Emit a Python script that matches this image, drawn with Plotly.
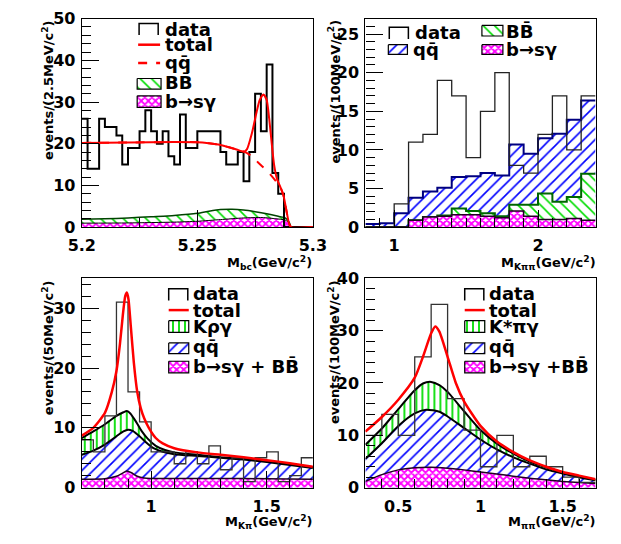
import plotly.graph_objects as go

W, H = 621, 544
FONT = "DejaVu Sans"

# ---------------- M_bc panel ----------------
mbc_start, mbc_width = 5.2, 0.0025
mbc_data = [26, 14, 14, 26, 24, 24, 22, 15, 19, 19,
            23, 28, 23, 20, 23, 17, 15, 27, 19, 19,
            23, 23, 23, 23, 18, 15, 15, 18, 11, 18,
            32, 23, 39, 13, 8, 0, 0, 0, 0, 0]
mbc_total_x = [5.200, 5.220, 5.240, 5.250, 5.255, 5.260, 5.2633, 5.267, 5.2702,
               5.2715, 5.2736, 5.2756, 5.2770, 5.2786, 5.2800, 5.2811, 5.2822,
               5.2832, 5.2845, 5.2860, 5.2873, 5.2887, 5.2897, 5.2905, 5.3000]
mbc_total_y = [20.2, 20.3, 20.4, 20.35, 20.1, 19.7, 19.2, 18.6, 18.1,
               18.7, 22.5, 27.5, 30.5, 31.8, 30.5, 26.0, 20.0,
               15.0, 11.5, 9.5, 7.5, 3.5, 0.8, 0.0, 0.0]
mbc_qq_x = [5.200, 5.220, 5.240, 5.250, 5.255, 5.260, 5.2633, 5.267, 5.2702,
            5.2725, 5.2750, 5.2780, 5.2810, 5.2840, 5.2860, 5.2873, 5.2887,
            5.2897, 5.2905]
mbc_qq_y = [20.2, 20.3, 20.4, 20.35, 20.1, 19.7, 19.2, 18.6, 18.1,
            17.4, 16.2, 14.6, 13.0, 11.0, 9.5, 7.5, 3.5, 0.8, 0.0]
mbc_bb_x = [5.200, 5.210, 5.220, 5.230, 5.240, 5.250, 5.255, 5.260, 5.265,
            5.270, 5.275, 5.280, 5.285, 5.288, 5.2897, 5.2905]
mbc_bb_y = [1.9, 2.0, 2.2, 2.5, 2.8, 3.3, 3.8, 4.2, 4.3,
            4.1, 3.7, 3.2, 2.6, 2.2, 1.2, 0.0]
mbc_bsg_x = [5.200, 5.220, 5.240, 5.250, 5.260, 5.270, 5.278, 5.284, 5.288,
             5.2897, 5.2905]
mbc_bsg_y = [0.95, 1.0, 1.2, 1.4, 1.8, 2.2, 2.3, 2.0, 1.7, 1.0, 0.0]

# ---------------- M_Kpipi panel ----------------
kpp_start, kpp_width = 0.8, 0.1
kpp_data = [0, 0, 3, 11, 12, 19, 17, 9, 15, 20, 8, 7, 12, 17, 10, 17]
kpp_qq = [0.4, 0.5, 1.8, 3.8, 4.6, 5.1, 6.5, 6.6, 7.0, 6.7,
          10.7, 9.5, 11.5, 12.1, 13.9, 16.4]
kpp_bb = [0, 0, 0, 0.9, 1.3, 1.5, 2.4, 2.1, 1.8, 1.4,
          2.9, 2.9, 4.35, 3.3, 3.9, 6.9]
kpp_bsg = [0, 0, 0, 0.9, 1.3, 1.4, 1.6, 1.6, 1.4, 1.2,
           2.1, 1.4, 1.0, 1.0, 1.1, 0.9]

# ---------------- M_Kpi panel ----------------
kpi_start, kpi_width = 0.7, 0.05
kpi_data = [8, 6, 12, 31, 16, 11, 6, 6, 4, 6, 4, 7, 3, 5, 1, 5, 6, 1, 2, 5]
kpi_total_x = [0.70, 0.75, 0.80, 0.83, 0.85, 0.865, 0.878, 0.888, 0.895, 0.902,
               0.912, 0.925, 0.94, 0.955, 0.97, 0.99, 1.02, 1.05, 1.10, 1.20,
               1.30, 1.40, 1.50, 1.60, 1.70]
kpi_total_y = [8.7, 10.0, 12.5, 16.0, 19.5, 24.0, 29.0, 32.0, 32.6, 31.5,
               27.0, 21.0, 16.0, 13.3, 11.6, 10.0, 8.3, 7.4, 6.6, 5.9,
               5.5, 5.1, 4.6, 4.1, 3.5]
kpi_krg_x = [0.70, 0.75, 0.80, 0.85, 0.88, 0.895, 0.91, 0.935, 0.96, 0.985,
             1.02, 1.06, 1.10, 1.20, 1.30, 1.40, 1.50, 1.60, 1.70]
kpi_krg_y = [8.3, 9.4, 10.6, 12.0, 12.6, 12.8, 12.4, 11.0, 9.4, 8.2,
             7.0, 6.3, 5.9, 5.5, 5.1, 4.8, 4.4, 3.9, 3.4]
kpi_qq_x = [0.70, 0.75, 0.80, 0.85, 0.88, 0.90, 0.92, 0.95, 0.98, 1.01,
            1.05, 1.10, 1.20, 1.30, 1.40, 1.50, 1.60, 1.70]
kpi_qq_y = [5.5, 6.2, 7.2, 8.6, 9.4, 9.7, 9.5, 8.6, 7.5, 6.6,
            6.0, 5.6, 5.3, 5.0, 4.7, 4.3, 3.8, 3.3]
kpi_bkg_x = [0.70, 0.80, 0.85, 0.875, 0.895, 0.915, 0.94, 0.97, 1.00, 1.10,
             1.30, 1.50, 1.70]
kpi_bkg_y = [1.4, 1.5, 1.9, 2.4, 2.8, 2.5, 1.9, 1.6, 1.55, 1.55,
             1.55, 1.5, 1.4]

# ---------------- M_pipi panel ----------------
pp_start, pp_width = 0.3, 0.1
pp_data = [10, 14, 10, 25, 35, 17, 11, 4, 10, 4, 6, 4, 2, 1]
pp_total_x = [0.30, 0.40, 0.50, 0.60, 0.65, 0.70, 0.725, 0.75, 0.80, 0.85,
              0.90, 1.00, 1.10, 1.20, 1.30, 1.40, 1.50, 1.60, 1.70]
pp_total_y = [10.7, 13.5, 16.8, 21.0, 25.0, 29.5, 30.8, 29.8, 25.0, 20.0,
              16.5, 11.8, 8.8, 6.8, 5.2, 4.0, 3.0, 2.3, 1.6]
pp_kspg_x = [0.30, 0.40, 0.50, 0.60, 0.65, 0.70, 0.75, 0.80, 0.90, 1.00,
             1.10, 1.20, 1.30, 1.40, 1.50, 1.60, 1.70]
pp_kspg_y = [8.2, 11.3, 15.0, 18.6, 19.9, 20.2, 19.6, 18.3, 14.6, 11.0,
             8.4, 6.5, 5.0, 3.9, 2.9, 2.2, 1.5]
pp_qq_x = [0.30, 0.40, 0.50, 0.60, 0.67, 0.75, 0.80, 0.90, 1.00, 1.10,
           1.20, 1.30, 1.40, 1.50, 1.60, 1.70]
pp_qq_y = [5.5, 8.5, 11.8, 14.2, 14.9, 14.5, 13.6, 11.4, 9.2, 7.3,
           5.8, 4.6, 3.5, 2.7, 2.0, 1.4]
pp_bkg_x = [0.30, 0.40, 0.50, 0.60, 0.70, 0.80, 0.90, 1.00, 1.10, 1.20,
            1.30, 1.40, 1.50, 1.60, 1.70]
pp_bkg_y = [1.2, 2.5, 3.4, 3.8, 3.9, 3.7, 3.4, 3.0, 2.6, 2.2,
            1.8, 1.5, 1.2, 1.0, 0.8]

# ---------------- styles ----------------
GREEN = "#00dd00"
BLUE = "#0000ff"
MAGENTA = "#ff00ff"
RED = "#ff0000"

PAT_DIAG_GREEN = dict(shape="\\", fgcolor=GREEN, bgcolor="white", size=8, solidity=0.2, fillmode="replace")
PAT_VERT_GREEN = dict(shape="|", fgcolor=GREEN, bgcolor="white", size=6, solidity=0.3, fillmode="replace")
PAT_BLUE = dict(shape="/", fgcolor=BLUE, bgcolor="white", size=8, solidity=0.2, fillmode="replace")
PAT_MAG = dict(shape="x", fgcolor=MAGENTA, bgcolor="white", size=5, solidity=0.6, fillmode="replace")


def steps(start, width, counts):
    edges = [start + width * i for i in range(len(counts) + 1)]
    return edges, list(counts) + [counts[-1]]


fig = go.Figure()


def add(trace, n):
    ax = "" if n == 1 else str(n)
    trace.update(xaxis="x" + ax, yaxis="y" + ax, showlegend=False, hoverinfo="skip")
    fig.add_trace(trace)


def hist_fill(start, width, vals, pattern, line_color, lw, n):
    x, y = steps(start, width, vals)
    add(go.Scatter(x=x, y=y, mode="lines", line=dict(shape="hv", color=line_color, width=lw),
                   fill="tozeroy", fillpattern=pattern), n)


def hist_line(start, width, vals, color, lw, n):
    x, y = steps(start, width, vals)
    add(go.Scatter(x=x, y=y, mode="lines", line=dict(shape="hv", color=color, width=lw)), n)


def curve_fill(x, y, pattern, line_color, lw, n):
    add(go.Scatter(x=x, y=y, mode="lines", line=dict(shape="spline", smoothing=0.6, color=line_color, width=lw),
                   fill="tozeroy", fillpattern=pattern), n)


def curve(x, y, color, lw, n, dash="solid"):
    add(go.Scatter(x=x, y=y, mode="lines", line=dict(shape="spline", smoothing=0.6, color=color, width=lw, dash=dash)), n)


# panel 1: M_bc
curve_fill(mbc_bb_x, mbc_bb_y, PAT_DIAG_GREEN, "#004400", 1.5, 1)
curve_fill(mbc_bsg_x, mbc_bsg_y, PAT_MAG, "black", 1, 1)
hist_line(mbc_start, mbc_width, mbc_data, "black", 2, 1)
curve(mbc_qq_x, mbc_qq_y, RED, 2, 1, dash="dash")
curve(mbc_total_x, mbc_total_y, RED, 2, 1)

# panel 2: M_Kpipi (stacked histograms)
hist_fill(kpp_start, kpp_width, kpp_qq, PAT_BLUE, "#000080", 2, 2)
hist_fill(kpp_start, kpp_width, kpp_bb, PAT_DIAG_GREEN, "#006600", 2, 2)
hist_fill(kpp_start, kpp_width, kpp_bsg, PAT_MAG, "#220022", 1.5, 2)
hist_line(kpp_start, kpp_width, kpp_data, "#222222", 1.3, 2)

# panel 3: M_Kpi
curve_fill(kpi_krg_x, kpi_krg_y, PAT_VERT_GREEN, "black", 2, 3)
curve_fill(kpi_qq_x, kpi_qq_y, PAT_BLUE, "black", 2, 3)
curve_fill(kpi_bkg_x, kpi_bkg_y, PAT_MAG, "#220022", 1.5, 3)
hist_line(kpi_start, kpi_width, kpi_data, "#333333", 1.3, 3)
curve(kpi_total_x, kpi_total_y, RED, 2.5, 3)

# panel 4: M_pipi
curve_fill(pp_kspg_x, pp_kspg_y, PAT_VERT_GREEN, "black", 2, 4)
curve_fill(pp_qq_x, pp_qq_y, PAT_BLUE, "black", 2, 4)
curve_fill(pp_bkg_x, pp_bkg_y, PAT_MAG, "#220022", 1.5, 4)
hist_line(pp_start, pp_width, pp_data, "#333333", 1.3, 4)
curve(pp_total_x, pp_total_y, RED, 2.5, 4)

# ---------------- axes ----------------
# frame boxes in pixels: left, right, top, bottom
FRAMES = {1: (71, 313, 10, 226), 2: (368, 609, 10, 226),
          3: (71, 313, 279, 496), 4: (368, 609, 279, 496)}
XSPEC = {1: dict(range=[5.2, 5.3], tickvals=[5.2, 5.25, 5.3], ticktext=["5.2", "5.25", "5.3"], minor=0.025),
         2: dict(range=[0.8, 2.4], tickvals=[1, 2], ticktext=["1", "2"], minor=0.1),
         3: dict(range=[0.7, 1.7], tickvals=[1, 1.5], ticktext=["1", "1.5"], minor=0.1),
         4: dict(range=[0.3, 1.7], tickvals=[0.5, 1, 1.5], ticktext=["0.5", "1", "1.5"], minor=0.1)}
YSPEC = {1: dict(range=[0, 50], dtick=10, minor=2),
         2: dict(range=[0, 27], dtick=5, minor=1),
         3: dict(range=[0, 35], dtick=10, minor=2),
         4: dict(range=[0, 40], dtick=10, minor=2)}

tickfont = dict(family=FONT, size=16, color="black", weight="bold")
common = dict(showline=True, mirror=True, linecolor="black", linewidth=1.2, ticks="inside",
              ticklen=17, tickwidth=1.2, tickcolor="black", showgrid=False, zeroline=False,
              tickfont=tickfont, fixedrange=True)

layout_axes = {}
for n, (l, r, t, b) in FRAMES.items():
    ax = "" if n == 1 else str(n)
    xs, ys = XSPEC[n], YSPEC[n]
    layout_axes["xaxis" + ax] = dict(
        common, domain=[l / W, r / W], anchor="y" + ax, range=xs["range"],
        tickvals=xs["tickvals"], ticktext=xs["ticktext"], ticklabelstandoff=4,
        minor=dict(ticks="inside", ticklen=9, tickwidth=1.2, tickcolor="black", dtick=xs["minor"],
                   tick0=xs["range"][0], showgrid=False))
    layout_axes["yaxis" + ax] = dict(
        common, domain=[1 - b / H, 1 - t / H], anchor="x" + ax, range=ys["range"],
        tick0=0, dtick=ys["dtick"], ticklabelstandoff=2,
        minor=dict(ticks="inside", ticklen=9, tickwidth=1.2, tickcolor="black", dtick=ys["minor"],
                   tick0=0, showgrid=False))

# overlay in pixel units for keys and titles
layout_axes["xaxis5"] = dict(domain=[0, 1], range=[0, W], visible=False, fixedrange=True, anchor="y5")
layout_axes["yaxis5"] = dict(domain=[0, 1], range=[H, 0], visible=False, fixedrange=True, anchor="x5")

annotations = []


def text(x, y, s, size=18, xanchor="left", yanchor="middle", angle=0):
    annotations.append(dict(x=x, y=y, xref="x5", yref="y5", text=s, showarrow=False,
                            xanchor=xanchor, yanchor=yanchor, textangle=angle, borderpad=0,
                            font=dict(family=FONT, size=size, color="black", weight="bold")))


def key_step(x0, x1, yt, yb, color="black"):
    add(go.Scatter(x=[x0, x0, x1, x1], y=[yb, yt, yt, yb], mode="lines",
                   line=dict(color=color, width=1.5)), 5)


def key_line(x0, x1, y, dash="solid"):
    add(go.Scatter(x=[x0, x1], y=[y, y], mode="lines", line=dict(color=RED, width=2.5, dash=dash)), 5)


def key_box(x0, x1, y0, y1, pattern):
    add(go.Scatter(x=[x0, x1, x1, x0, x0], y=[y0, y0, y1, y1, y0], mode="lines", fill="toself",
                   fillpattern=pattern, line=dict(color="black", width=1.2)), 5)


QQ = "qq\u0304"
BB = "BB\u0304"
BSG = "b\u2192s\u03b3"

# panel 1 key
key_step(131, 151, 15, 27); text(157, 21, "data")
key_line(130, 153, 37); text(157, 37, "total")
key_line(130, 153, 56, dash="dash"); text(157, 55, QQ)
key_box(129, 154, 72, 83, PAT_DIAG_GREEN); text(157, 76, BB)
key_box(129, 154, 90, 102, PAT_MAG); text(157, 96, BSG)

# panel 2 key
key_step(393, 413, 19, 31); text(419, 24, "data")
key_box(392, 412, 37, 47, PAT_BLUE); text(417, 42, QQ)
key_box(490, 512, 17, 28, PAT_DIAG_GREEN); text(514, 23, BB)
key_box(490, 512, 37, 47, PAT_MAG); text(514, 42, BSG)

# panel 3 key
key_step(162, 182, 290, 302); text(186, 295, "data")
key_line(162, 183, 312); text(186, 312, "total")
key_box(162, 183, 323, 335, PAT_VERT_GREEN); text(186, 329, "K\u03c1\u03b3")
key_box(162, 183, 346, 357, PAT_BLUE); text(186, 350, QQ)
key_box(162, 183, 365, 377, PAT_MAG); text(186, 370, BSG + " + " + BB)

# panel 4 key
key_step(472, 492, 290, 302); text(496, 295, "data")
key_line(472, 493, 312); text(496, 312, "total")
key_box(472, 493, 323, 335, PAT_VERT_GREEN); text(496, 329, "K*\u03c0\u03b3")
key_box(472, 493, 346, 357, PAT_BLUE); text(496, 350, QQ)
key_box(472, 493, 365, 377, PAT_MAG); text(496, 370, BSG + " +" + BB)

# axis titles
text(35, 10, "events/(2.5MeV/c<sup>2</sup>)", size=13, xanchor="center", yanchor="top", angle=-90)
text(335, 10, "events/(100MeV/c<sup>2</sup>)", size=13, xanchor="center", yanchor="top", angle=-90)
text(35, 280, "events/(50MeV/c<sup>2</sup>)", size=13, xanchor="center", yanchor="top", angle=-90)
text(335, 280, "events/(100MeV/c<sup>2</sup>)", size=13, xanchor="center", yanchor="top", angle=-90)
text(313, 263, "M<sub>bc</sub>(GeV/c<sup>2</sup>)", size=13, xanchor="right")
text(611, 263, "M<sub>K\u03c0\u03c0</sub>(GeV/c<sup>2</sup>)", size=13, xanchor="right")
text(313, 532, "M<sub>K\u03c0</sub>(GeV/c<sup>2</sup>)", size=13, xanchor="right")
text(611, 532, "M<sub>\u03c0\u03c0</sub>(GeV/c<sup>2</sup>)", size=13, xanchor="right")

fig.update_layout(
    width=W, height=H, margin=dict(l=0, r=0, t=0, b=0),
    paper_bgcolor="white", plot_bgcolor="rgba(0,0,0,0)",
    showlegend=False, annotations=annotations, **layout_axes)

fig.write_html("out.html")
